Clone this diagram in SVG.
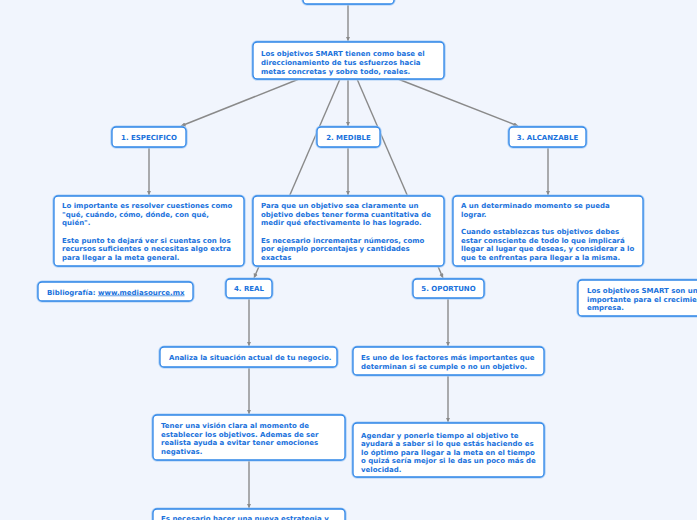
<svg xmlns="http://www.w3.org/2000/svg" width="697" height="520" viewBox="0 0 697 520">
<style>
.bx{fill:#ffffff;stroke:#2f86e8;stroke-width:1.3}
.halo{fill:none;stroke:#a9cdf5;stroke-width:3.2}
.t{font-family:"DejaVu Sans",Verdana,sans-serif;font-size:7px;font-weight:bold;fill:#1a72dc}
.c{text-anchor:middle}
.ln{stroke:#8a8a8a;stroke-width:1.4;fill:none}
</style>
<defs>
<marker id="ah" viewBox="0 0 10 10" refX="10" refY="5" markerWidth="4.5" markerHeight="4.5" orient="auto" markerUnits="userSpaceOnUse">
<path d="M0,0 L10,5 L0,10 z" fill="#8a8a8a"/>
</marker>
</defs>
<rect width="697" height="520" fill="#f1f5fd"/>
<g id="connectors">
<line class="ln" x1="348" y1="4" x2="348" y2="41" marker-end="url(#ah)"/>
<line class="ln" x1="299" y1="79" x2="181" y2="126" marker-end="url(#ah)"/>
<line class="ln" x1="348" y1="79" x2="348" y2="126" marker-end="url(#ah)"/>
<line class="ln" x1="398" y1="79" x2="518" y2="126" marker-end="url(#ah)"/>
<line class="ln" x1="340" y1="79" x2="254" y2="278" marker-end="url(#ah)"/>
<line class="ln" x1="357" y1="79" x2="443" y2="278" marker-end="url(#ah)"/>
<line class="ln" x1="149" y1="147" x2="149" y2="195" marker-end="url(#ah)"/>
<line class="ln" x1="348" y1="147" x2="348" y2="195" marker-end="url(#ah)"/>
<line class="ln" x1="548" y1="147" x2="548" y2="195" marker-end="url(#ah)"/>
<line class="ln" x1="249" y1="298" x2="249" y2="346" marker-end="url(#ah)"/>
<line class="ln" x1="448" y1="298" x2="448" y2="346" marker-end="url(#ah)"/>
<line class="ln" x1="249" y1="367" x2="249" y2="414" marker-end="url(#ah)"/>
<line class="ln" x1="448" y1="375" x2="448" y2="422" marker-end="url(#ah)"/>
<line class="ln" x1="249" y1="460" x2="249" y2="508" marker-end="url(#ah)"/>
</g>
<g id="top">
<rect class="halo" x="303" y="-20" width="91" height="24" rx="4"/>
<rect class="bx" x="303" y="-20" width="91" height="24" rx="4"/>
</g>
<g id="main">
<rect class="halo" x="253" y="42" width="191" height="37" rx="4"/>
<rect class="bx" x="253" y="42" width="191" height="37" rx="4"/>
<text class="t" x="261" y="55.5">Los objetivos SMART tienen como base el</text>
<text class="t" x="261" y="64.5">direccionamiento de tus esfuerzos hacia</text>
<text class="t" x="261" y="73.5">metas concretas y sobre todo, reales.</text>
</g>
<g id="especifico">
<rect class="halo" x="112" y="127" width="74" height="20" rx="4"/>
<rect class="bx" x="112" y="127" width="74" height="20" rx="4"/>
<text class="t c" x="149" y="139.5">1. ESPECIFICO</text>
</g>
<g id="medible">
<rect class="halo" x="317" y="127" width="63" height="20" rx="4"/>
<rect class="bx" x="317" y="127" width="63" height="20" rx="4"/>
<text class="t c" x="348.5" y="139.5">2. MEDIBLE</text>
</g>
<g id="alcanzable">
<rect class="halo" x="509" y="127" width="77" height="20" rx="4"/>
<rect class="bx" x="509" y="127" width="77" height="20" rx="4"/>
<text class="t c" x="547.5" y="139.5">3. ALCANZABLE</text>
</g>
<g id="especifico-detail">
<rect class="halo" x="54" y="196" width="190" height="70" rx="4"/>
<rect class="bx" x="54" y="196" width="190" height="70" rx="4"/>
<text class="t" x="62" y="208">Lo importante es resolver cuestiones como</text>
<text class="t" x="62" y="216.5">"qué, cuándo, cómo, dónde, con qué,</text>
<text class="t" x="62" y="225">quién".</text>
<text class="t" x="62" y="242.5">Este punto te dejará ver si cuentas con los</text>
<text class="t" x="62" y="251">recursos suficientes o necesitas algo extra</text>
<text class="t" x="62" y="259.5">para llegar a la meta general.</text>
</g>
<g id="medible-detail">
<rect class="halo" x="253" y="196" width="191" height="70" rx="4"/>
<rect class="bx" x="253" y="196" width="191" height="70" rx="4"/>
<text class="t" x="261" y="208">Para que un objetivo sea claramente un</text>
<text class="t" x="261" y="216.5">objetivo debes tener forma cuantitativa de</text>
<text class="t" x="261" y="225">medir qué efectivamente lo has logrado.</text>
<text class="t" x="261" y="242.5">Es necesario incrementar números, como</text>
<text class="t" x="261" y="251">por ejemplo porcentajes y cantidades</text>
<text class="t" x="261" y="259.5">exactas</text>
</g>
<g id="alcanzable-detail">
<rect class="halo" x="453" y="196" width="190" height="70" rx="4"/>
<rect class="bx" x="453" y="196" width="190" height="70" rx="4"/>
<text class="t" x="461" y="208">A un determinado momento se pueda</text>
<text class="t" x="461" y="216.5">lograr.</text>
<text class="t" x="461" y="234">Cuando establezcas tus objetivos debes</text>
<text class="t" x="461" y="242.5">estar consciente de todo lo que implicará</text>
<text class="t" x="461" y="251">llegar al lugar que deseas, y considerar a lo</text>
<text class="t" x="461" y="259.5">que te enfrentas para llegar a la misma.</text>
</g>
<g id="bibliografia">
<rect class="halo" x="38" y="282" width="155" height="19" rx="4"/>
<rect class="bx" x="38" y="282" width="155" height="19" rx="4"/>
<text class="t" x="47" y="294.5">Bibliografía: <tspan text-decoration="underline">www.mediasource.mx</tspan></text>
</g>
<g id="real">
<rect class="halo" x="226" y="279" width="46" height="19" rx="4"/>
<rect class="bx" x="226" y="279" width="46" height="19" rx="4"/>
<text class="t c" x="249" y="291">4. REAL</text>
</g>
<g id="oportuno">
<rect class="halo" x="413" y="279" width="71" height="19" rx="4"/>
<rect class="bx" x="413" y="279" width="71" height="19" rx="4"/>
<text class="t c" x="448.5" y="291">5. OPORTUNO</text>
</g>
<g id="smart-note">
<rect class="halo" x="578" y="280" width="140" height="36" rx="4"/>
<rect class="bx" x="578" y="280" width="140" height="36" rx="4"/>
<text class="t" x="587" y="293">Los objetivos SMART son un</text>
<text class="t" x="587" y="301.5">importante para el crecimiento</text>
<text class="t" x="587" y="310">empresa.</text>
</g>
<g id="analiza">
<rect class="halo" x="160" y="347" width="177" height="20" rx="4"/>
<rect class="bx" x="160" y="347" width="177" height="20" rx="4"/>
<text class="t" x="169" y="359.5">Analiza la situación actual de tu negocio.</text>
</g>
<g id="es-uno">
<rect class="halo" x="353" y="347" width="191" height="28" rx="4"/>
<rect class="bx" x="353" y="347" width="191" height="28" rx="4"/>
<text class="t" x="361" y="359.5">Es uno de los factores más importantes que</text>
<text class="t" x="361" y="368.5">determinan si se cumple o no un objetivo.</text>
</g>
<g id="tener">
<rect class="halo" x="153" y="415" width="192" height="45" rx="4"/>
<rect class="bx" x="153" y="415" width="192" height="45" rx="4"/>
<text class="t" x="161" y="428">Tener una visión clara al momento de</text>
<text class="t" x="161" y="436.5">establecer los objetivos. Ademas de ser</text>
<text class="t" x="161" y="445">realista ayuda a evitar tener emociones</text>
<text class="t" x="161" y="453.5">negativas.</text>
</g>
<g id="agendar">
<rect class="halo" x="353" y="423" width="191" height="54" rx="4"/>
<rect class="bx" x="353" y="423" width="191" height="54" rx="4"/>
<text class="t" x="361" y="437.5">Agendar y ponerle tiempo al objetivo te</text>
<text class="t" x="361" y="446">ayudará a saber si lo que estás haciendo es</text>
<text class="t" x="361" y="454.5">lo óptimo para llegar a la meta en el tiempo</text>
<text class="t" x="361" y="463">o quizá sería mejor si le das un poco más de</text>
<text class="t" x="361" y="471.5">velocidad.</text>
</g>
<g id="estrategia">
<rect class="halo" x="153" y="509" width="192" height="30" rx="4"/>
<rect class="bx" x="153" y="509" width="192" height="30" rx="4"/>
<text class="t" x="161" y="521">Es necesario hacer una nueva estrategia y</text>
</g>
</svg>
